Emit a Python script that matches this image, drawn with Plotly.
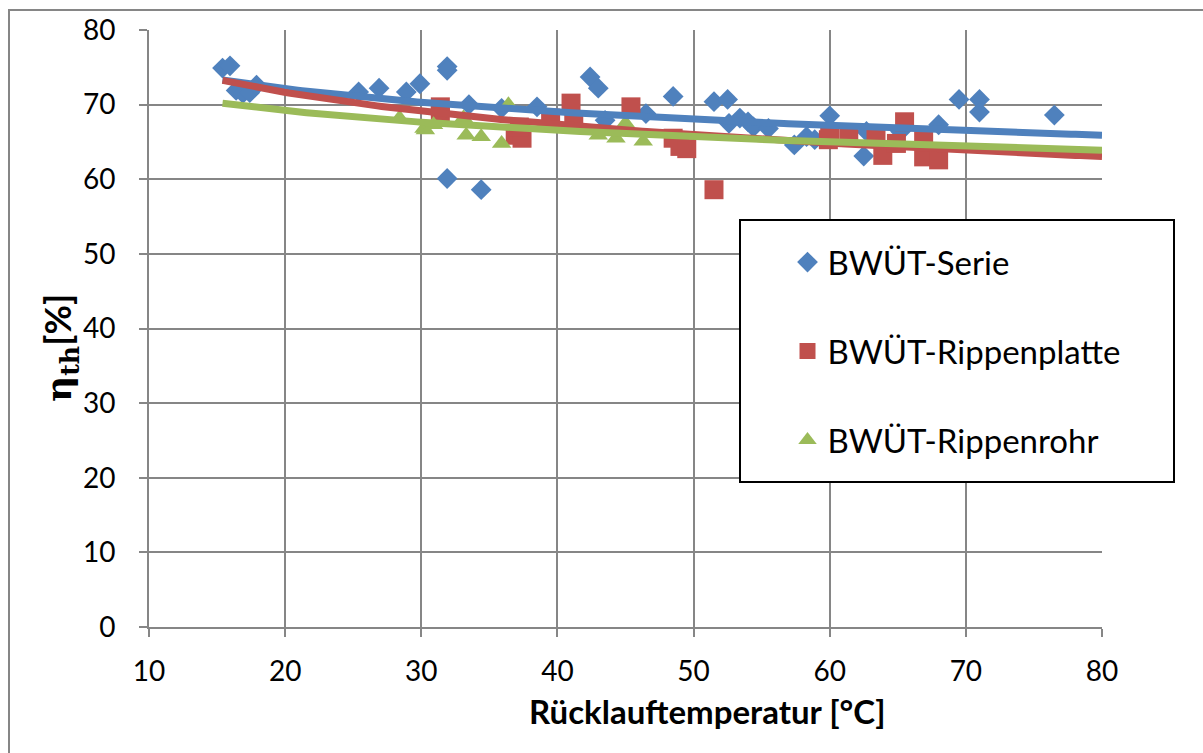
import numpy as np
import plotly.graph_objects as go

# ---------------- data ----------------
serie_x = [15.4, 15.95, 16.4, 16.9, 17.4, 17.9, 25.4, 26.9, 28.9, 29.9, 31.9, 31.9, 33.5, 35.9,
           38.5, 31.9, 34.4, 42.4, 43.0, 43.5, 46.5, 48.5, 51.5, 52.5, 52.6, 53.4, 54.0, 54.4,
           55.5, 57.4, 58.3, 58.9, 60.0, 62.5, 62.7, 65.2, 68.0, 69.5, 71.0, 71.0, 76.5]
serie_y = [74.9, 75.2, 71.9, 71.5, 71.6, 72.6, 71.7, 72.2, 71.7, 72.8, 75.1, 74.6, 70.0, 69.5,
           69.7, 60.1, 58.6, 73.7, 72.2, 67.9, 68.8, 71.1, 70.4, 70.7, 67.5, 68.2, 67.7, 67.0,
           66.8, 64.6, 65.7, 65.3, 68.5, 63.1, 66.4, 66.4, 67.3, 70.7, 70.7, 69.0, 68.6]

platte_x = [31.4, 31.4, 36.9, 37.4, 37.2, 39.5, 41.0, 41.2, 45.4, 48.5, 49.0, 49.5, 51.5,
            59.9, 60.0, 61.4, 63.4, 63.9, 64.9, 65.5, 66.9, 66.9, 68.0]
platte_y = [69.7, 68.6, 65.9, 65.5, 67.0, 68.2, 70.2, 67.9, 69.7, 65.5, 64.4, 64.1, 58.6,
            65.3, 66.1, 65.9, 65.9, 63.2, 64.8, 67.7, 65.7, 63.0, 62.6]

rohr_x = [28.4, 30.2, 30.3, 30.9, 33.1, 33.3, 34.4, 35.9, 36.4, 43.0, 44.3, 45.0, 46.3]
rohr_y = [68.2, 66.8, 66.6, 67.3, 68.2, 65.9, 65.7, 64.8, 70.0, 65.9, 65.5, 67.5, 65.1]

series_names = ["BWÜT-Serie", "BWÜT-Rippenplatte", "BWÜT-Rippenrohr"]

# logarithmic trend lines y = a + b*ln(x)
trend_a = [85.58, 90.2, 80.64]
trend_b = [-4.49, -6.197, -3.82]
trend_range = [15.4, 80.0]

x_ticks = [10, 20, 30, 40, 50, 60, 70, 80]
y_ticks = [0, 10, 20, 30, 40, 50, 60, 70, 80]

# ---------------- styling ----------------
colors = ["#4F81BD", "#C0504D", "#9BBB59"]
symbols = ["diamond", "square", "triangle-up"]
sizes = [16, 19, 17]
grid = "#868686"
FONT = "Lato"

fig = go.Figure()
xs = [serie_x, platte_x, rohr_x]
ys = [serie_y, platte_y, rohr_y]
for i in range(3):
    fig.add_trace(go.Scatter(
        x=xs[i], y=ys[i], mode="markers", name=series_names[i],
        legendgroup=f"g{i}",
        marker=dict(symbol=symbols[i], size=sizes[i], color=colors[i], line=dict(width=0)),
    ))

tx = np.linspace(trend_range[0], trend_range[1], 200)
for i in range(3):
    fig.add_trace(go.Scatter(
        x=tx, y=trend_a[i] + trend_b[i] * np.log(tx), mode="lines",
        line=dict(color=colors[i], width=7), showlegend=False, hoverinfo="skip",
    ))

axis_common = dict(
    showgrid=True, gridcolor=grid, gridwidth=2,
    showline=True, linecolor=grid, linewidth=2,
    ticks="outside", tickcolor=grid, tickwidth=2, ticklen=8,
    zeroline=False, tickfont=dict(family=FONT, size=28, color="#000000"),
)
fig.update_xaxes(range=[10, 80], tickvals=x_ticks, ticklabelstandoff=10, **axis_common)
fig.update_yaxes(range=[0, 80], tickvals=y_ticks, ticklabelstandoff=18, **axis_common)

fig.update_layout(
    width=1203, height=753, autosize=False,
    margin=dict(l=149, r=101, t=30, b=126),
    paper_bgcolor="white", plot_bgcolor="white",
    font=dict(family=FONT, color="#000000"),
    showlegend=True,
    legend=dict(
        x=0.670, y=0.658, xanchor="left", yanchor="top",
        bgcolor="rgba(0,0,0,0)", borderwidth=0,
        font=dict(family=FONT, size=33, color="#000000"),
        tracegroupgap=43, itemsizing="trace",
    ),
    shapes=[
        # outer chart frame
        dict(type="rect", xref="paper", yref="paper",
             x0=(9 - 149) / 953, x1=(1215 - 149) / 953,
             y0=(627 - 760) / 597, y1=(627 - 10) / 597,
             line=dict(color=grid, width=2), fillcolor="rgba(0,0,0,0)", layer="below"),
        # legend box
        dict(type="rect", xref="paper", yref="paper",
             x0=(740 - 149) / 953, x1=(1174 - 149) / 953,
             y0=(627 - 482) / 597, y1=(627 - 220) / 597,
             line=dict(color="#000000", width=2), fillcolor="white", layer="above"),
    ],
    annotations=[
        dict(text="<b>Rücklauftemperatur [°C]</b>", xref="paper", yref="paper",
             x=(707 - 149) / 953, y=(627 - 711) / 597, xanchor="center", yanchor="middle",
             showarrow=False, font=dict(family=FONT, size=33, color="#000000")),
        dict(text="<b><span style='font-family:DejaVu Serif'>η<sub>th</sub></span>[%]</b>",
             xref="paper", yref="paper",
             x=(60 - 149) / 953, y=(627 - 348) / 597, xanchor="center", yanchor="middle",
             textangle=-90, showarrow=False,
             font=dict(family=FONT, size=36, color="#000000")),
    ],
)

fig.write_html("out.html")
